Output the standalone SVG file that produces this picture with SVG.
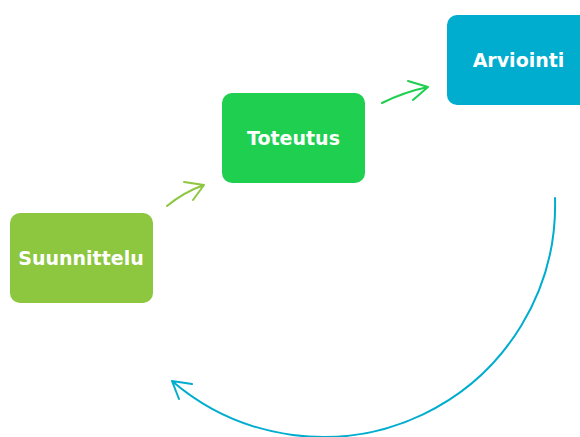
<svg xmlns="http://www.w3.org/2000/svg" width="580" height="437" viewBox="0 0 580 437">
<style>
.lbl{font-family:"DejaVu Sans",Verdana,sans-serif;font-weight:bold;font-size:19px;fill:#fff;text-anchor:middle;dominant-baseline:central}
.c{fill:none;stroke-width:2;stroke-linecap:round;stroke-linejoin:round}
</style>
<rect width="580" height="437" fill="#fff"/>
<g id="suunnittelu"><rect x="10" y="213" width="143" height="90" rx="10" fill="#8dc63f"/><text class="lbl" x="81" y="258">Suunnittelu</text></g>
<g id="toteutus"><rect x="222" y="93" width="143" height="90" rx="10" fill="#1ecf50"/><text class="lbl" x="293.5" y="138">Toteutus</text></g>
<g id="arviointi"><rect x="447" y="15" width="143" height="90" rx="10" fill="#00adce"/><text class="lbl" x="518.5" y="60">Arviointi</text></g>
<g id="connectors">
<path class="c" stroke="#8dc63f" d="M167,206 Q184,192 204,185 M184,182 L204,185 L193,200"/>
<path class="c" stroke="#1ecf50" d="M382,103 Q404,92 428,87 M408,81 L428,87 L413,100"/>
<path class="c" stroke="#00adce" d="M555,198 A232,232 0 0 1 172,381 M192,384 L172,381 L179,399"/>
</g>
</svg>
